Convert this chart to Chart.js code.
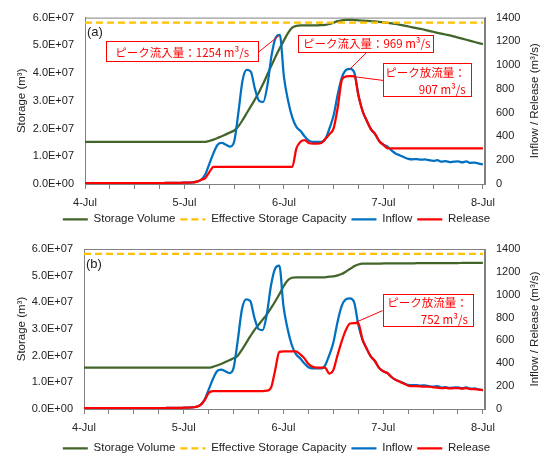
<!DOCTYPE html>
<html>
<head>
<meta charset="utf-8">
<script src="https://cdn.jsdelivr.net/npm/chart.js@4"></script>
<style>
  html, body { margin: 0; padding: 0; background: #fff; overflow: hidden; }
  #wrap { position: relative; width: 553px; height: 454px; overflow: hidden; }
  .panel { position: absolute; left: 0; width: 553px; height: 235px; }
  #pa { top: 0; }
  #pb { top: 229px; }
</style>
</head>
<body>
<div id="wrap">
  <div class="panel" id="pa"><canvas id="chartA" width="553" height="235"></canvas></div>
  <div class="panel" id="pb"><canvas id="chartB" width="553" height="235"></canvas></div>
</div>
<script>
// hourly values, 4-Jul 0:00 (hour 0) .. 8-Jul 0:00 (hour 96)
const dayLabels = ['4-Jul', '5-Jul', '6-Jul', '7-Jul', '8-Jul'];
const hours = Array.from({length: 97}, (_, i) => i);
const tickHours = hours.filter(h => h % 6 === 0);

// inflow, m3/s (same for both cases)
const inflow = [
  8, 8, 8, 8, 8, 8, 8, 8, 8, 8,
  8, 8, 8, 8, 8, 8, 8, 8, 8, 8,
  9, 9, 10, 10, 11, 12, 14, 20, 35, 80,
  170, 260, 330, 345, 330, 315, 360, 600, 870, 960,
  945, 800, 700, 690, 830, 1080, 1230, 1254, 900, 700,
  560, 480, 445, 400, 365, 355, 355, 355, 380, 470,
  580, 760, 900, 960, 969, 935, 740, 610, 530, 460,
  420, 360, 330, 315, 280, 255, 240, 225, 212, 208,
  210, 205, 207, 200, 195, 200, 188, 192, 185, 188,
  190, 182, 190, 178, 180, 172, 165
];

// release, m3/s
const releaseA = [
  8, 8, 8, 8, 8, 8, 8, 8, 8, 8,
  8, 8, 8, 8, 8, 8, 8, 8, 8, 8,
  9, 9, 10, 10, 11, 12, 14, 20, 35, 50,
  100, 145, 145, 145, 145, 145, 145, 145, 145, 145,
  145, 145, 145, 145, 145, 145, 145, 145, 145, 145,
  145, 300, 355, 370, 345, 340, 340, 345, 380, 420,
  470, 650, 880, 905, 907, 905, 740, 610, 530, 460,
  420, 360, 330, 300, 300, 300, 300, 300, 300, 300,
  300, 300, 300, 300, 300, 300, 300, 300, 300, 300,
  300, 300, 300, 300, 300, 300, 300
];
const releaseB = [
  8, 8, 8, 8, 8, 8, 8, 8, 8, 8,
  8, 8, 8, 8, 8, 8, 8, 8, 8, 8,
  9, 9, 10, 10, 11, 12, 14, 18, 35, 75,
  140, 157, 157, 157, 157, 157, 157, 157, 157, 157,
  157, 157, 157, 157, 160, 185, 340, 500, 505, 505,
  505, 505, 480, 445, 395, 370, 362, 362, 362, 310,
  340, 470, 590, 690, 748, 752, 752, 610, 530, 460,
  420, 360, 330, 315, 280, 255, 238, 222, 205, 200,
  200, 198, 195, 195, 190, 188, 182, 185, 180, 182,
  182, 178, 182, 175, 175, 170, 166
];

// storage volume, 10^7 m3
const storageA = [
  1.52, 1.52, 1.52, 1.52, 1.52, 1.52, 1.52, 1.52, 1.52, 1.52,
  1.52, 1.52, 1.52, 1.52, 1.52, 1.52, 1.52, 1.52, 1.52, 1.52,
  1.52, 1.52, 1.52, 1.52, 1.52, 1.52, 1.52, 1.52, 1.52, 1.52,
  1.55, 1.60, 1.66, 1.72, 1.79, 1.86, 1.93, 2.08, 2.30, 2.55,
  2.80, 3.05, 3.32, 3.62, 3.95, 4.28, 4.60, 4.90, 5.18, 5.45,
  5.64, 5.70, 5.72, 5.72, 5.72, 5.72, 5.72, 5.73, 5.74, 5.77,
  5.82, 5.87, 5.90, 5.92, 5.92, 5.91, 5.90, 5.89, 5.88, 5.87,
  5.86, 5.85, 5.83, 5.81, 5.79, 5.77, 5.74, 5.71, 5.68, 5.65,
  5.62, 5.59, 5.56, 5.52, 5.49, 5.45, 5.42, 5.39, 5.36, 5.32,
  5.28, 5.24, 5.20, 5.16, 5.12, 5.08, 5.04
];
const storageB = [
  1.55, 1.55, 1.55, 1.55, 1.55, 1.55, 1.55, 1.55, 1.55, 1.55,
  1.55, 1.55, 1.55, 1.55, 1.55, 1.55, 1.55, 1.55, 1.55, 1.55,
  1.55, 1.55, 1.55, 1.55, 1.55, 1.55, 1.55, 1.55, 1.55, 1.55,
  1.55, 1.58, 1.63, 1.69, 1.76, 1.83, 1.90, 2.00, 2.22, 2.47,
  2.72, 2.96, 3.16, 3.35, 3.55, 3.78, 4.03, 4.30, 4.60, 4.82,
  4.92, 4.94, 4.94, 4.94, 4.94, 4.94, 4.94, 4.94, 4.94, 4.96,
  4.97, 5.01, 5.06, 5.15, 5.25, 5.35, 5.42, 5.45, 5.45, 5.45,
  5.45, 5.45, 5.46, 5.46, 5.46, 5.46, 5.46, 5.46, 5.46, 5.46,
  5.47, 5.47, 5.47, 5.47, 5.47, 5.47, 5.47, 5.47, 5.47, 5.47,
  5.47, 5.48, 5.48, 5.48, 5.48, 5.48, 5.48
];

const capacity = 5.82e7; // effective storage capacity, m3

const storageTicks = [0, 1e7, 2e7, 3e7, 4e7, 5e7, 6e7];
const flowTicks = [0, 200, 400, 600, 800, 1000, 1200, 1400];

const FONT = "'Liberation Sans', Arial, sans-serif";
const JP_FONT = "'Noto Sans CJK JP', 'Noto Sans', sans-serif";
const TEXT = '#222';
const AXIS = '#808080';
const RED = '#FF0000';

Chart.defaults.font.family = FONT;
Chart.defaults.color = TEXT;

function sci(v) {
  const [m, e] = v.toExponential(1).split('e');
  const n = Math.abs(parseInt(e, 10));
  return m + 'E' + (e[0] === '-' ? '-' : '+') + String(n).padStart(2, '0');
}

function peakHour(series, from, to) {
  let best = from;
  for (let i = from; i <= to; i++) if (series[i] > series[best]) best = i;
  return best;
}

// frame, axis titles, panel letter and the red call-outs
const decor = {
  id: 'decor',
  beforeDatasetsDraw(chart) {
    const {ctx, chartArea: a} = chart;
    ctx.save();
    ctx.strokeStyle = AXIS;
    ctx.lineWidth = 1;
    ctx.strokeRect(a.left + 0.5, a.top + 0.5, a.right - a.left - 1, a.bottom - a.top);
    ctx.restore();
  },
  afterDatasetsDraw(chart, args, opts) {
    const {ctx, chartArea: a} = chart;
    const xs = chart.scales.x, ys = chart.scales.yR;
    ctx.save();
    ctx.fillStyle = TEXT;
    ctx.font = '13px ' + FONT;
    ctx.textAlign = 'left';
    ctx.textBaseline = 'middle';
    ctx.fillText(opts.tag, a.left + 2, a.top + 15);

    opts.callouts.forEach(c => {
      const L = xs.getPixelForValue(c.box[0]), R = xs.getPixelForValue(c.box[2]);
      const T = ys.getPixelForValue(c.box[1]), B = ys.getPixelForValue(c.box[3]);
      const px = xs.getPixelForValue(c.at), py = ys.getPixelForValue(c.series[c.at]);
      let sx = (L + R) / 2, sy = B;
      if (c.from === 'right') { sx = R; sy = (T + B) / 2; }
      if (c.from === 'left') { sx = L; sy = (T + B) / 2; }
      ctx.strokeStyle = RED;
      ctx.lineWidth = 1;
      ctx.beginPath();
      ctx.moveTo(sx, sy);
      ctx.lineTo(px, py);
      ctx.stroke();
      ctx.fillStyle = '#fff';
      ctx.fillRect(L, T, R - L, B - T);
      ctx.strokeRect(Math.round(L) + 0.5, Math.round(T) + 0.5, Math.round(R - L) - 1, Math.round(B - T) - 1);
      ctx.fillStyle = RED;
      ctx.font = '11.5px ' + JP_FONT;
      ctx.textBaseline = 'middle';
      const lh = (B - T) / c.lines.length;
      c.lines.forEach((s, i) => {
        if (c.lines.length === 1) {
          ctx.textAlign = 'center';
          ctx.fillText(s, (L + R) / 2, T + lh * (i + 0.5) + 0.5);
        } else {
          ctx.textAlign = 'right';
          ctx.fillText(s, R - 6, T + lh * (i + 0.5) + 0.5);
        }
      });
    });
    ctx.restore();
  },
  afterDraw(chart) {
    const {ctx, chartArea: a} = chart;
    const mid = (a.top + a.bottom) / 2;
    ctx.save();
    ctx.fillStyle = TEXT;
    ctx.font = '11.5px ' + FONT;
    ctx.textAlign = 'center';
    ctx.textBaseline = 'middle';
    [[22, 'Storage (m³)'], [535, 'Inflow / Release (m³/s)']].forEach(([x, s]) => {
      ctx.save();
      ctx.translate(x, mid);
      ctx.rotate(-Math.PI / 2);
      ctx.fillText(s, 0, 0);
      ctx.restore();
    });
    ctx.restore();
  }
};

function makeChart(id, p) {
  return new Chart(document.getElementById(id), {
    type: 'line',
    data: {
      labels: hours,
      datasets: [
        {label: 'Storage Volume', data: p.storage.map(v => v * 1e7), yAxisID: 'yL',
         borderColor: '#42652A', borderWidth: 2.25, order: 4},
        {label: 'Effective Storage Capacity', data: hours.map(() => capacity), yAxisID: 'yL',
         borderColor: '#FFC000', borderWidth: 2.25, borderDash: [7, 4], order: 3},
        {label: 'Inflow', data: inflow, yAxisID: 'yR',
         borderColor: '#0070C0', borderWidth: 2.25, order: 2},
        {label: 'Release', data: p.release, yAxisID: 'yR',
         borderColor: RED, borderWidth: 2.25, order: 1}
      ]
    },
    options: {
      responsive: false,
      animation: false,
      devicePixelRatio: 1,
      layout: {padding: {top: p.top, left: 0, right: 0, bottom: 0}},
      elements: {
        point: {radius: 0},
        line: {cubicInterpolationMode: 'monotone', fill: false}
      },
      scales: {
        x: {
          type: 'linear', min: 0, max: 96.5,
          afterBuildTicks: s => { s.ticks = tickHours.map(v => ({value: v})); },
          afterFit: s => { s.height = p.xHeight; },
          ticks: {autoSkip: false, maxRotation: 0, padding: 7, font: {size: 11},
                  callback: v => (v % 24 === 0 ? dayLabels[v / 24] : '')},
          grid: {drawOnChartArea: false, drawTicks: true, tickLength: 5, color: AXIS},
          border: {color: AXIS}
        },
        yL: {
          position: 'left', min: 0, max: 6e7,
          afterBuildTicks: s => { s.ticks = storageTicks.map(v => ({value: v})); },
          afterFit: s => { s.width = p.left; },
          ticks: {padding: 11, font: {size: 11}, callback: v => sci(v)},
          grid: {drawOnChartArea: false, drawTicks: false},
          border: {color: AXIS}
        },
        yR: {
          position: 'right', min: 0, max: 1400,
          afterBuildTicks: s => { s.ticks = flowTicks.map(v => ({value: v})); },
          afterFit: s => { s.width = 553 - p.right; },
          ticks: {padding: 11, font: {size: 11}, callback: v => String(v)},
          grid: {drawOnChartArea: false, drawTicks: false},
          border: {color: AXIS}
        }
      },
      plugins: {
        legend: {
          position: 'bottom',
          reverse: true,
          labels: {
            usePointStyle: true,
            pointStyle: 'line',
            pointStyleWidth: 25,
            padding: 5,
            color: TEXT,
            font: {size: 11.5},
            generateLabels: chart => Chart.defaults.plugins.legend.labels.generateLabels(chart).map(item => {
              const ds = chart.data.datasets[item.datasetIndex];
              return Object.assign(item, {
                lineWidth: ds.borderWidth, lineDash: ds.borderDash || [],
                strokeStyle: ds.borderColor, fillStyle: ds.borderColor
              });
            })
          }
        },
        tooltip: {enabled: false},
        decor: {tag: p.tag, callouts: p.callouts}
      }
    },
    plugins: [decor]
  });
}

const inPeak1 = peakHour(inflow, 40, 50);
const inPeak2 = peakHour(inflow, 55, 75);
const outPeakA = peakHour(releaseA, 55, 75);
const outPeakB = peakHour(releaseB, 55, 75);

makeChart('chartA', {
  tag: '(a)', storage: storageA, release: releaseA,
  top: 17, left: 85, right: 485, xHeight: 24.5,
  callouts: [
    {lines: ['ピーク流入量：' + inflow[inPeak1] + ' m³/s'], box: [5, 1199, 41.9, 1023],
     from: 'right', series: inflow, at: inPeak1},
    {lines: ['ピーク流入量：' + inflow[inPeak2] + ' m³/s'], box: [51.5, 1257, 84.4, 1107],
     from: 'bottom', series: inflow, at: inPeak2},
    {lines: ['ピーク放流量：', releaseA[outPeakA] + ' m³/s'], box: [71.9, 1014, 93.3, 729],
     from: 'left', series: releaseA, at: outPeakA}
  ]
});

makeChart('chartB', {
  tag: '(b)', storage: storageB, release: releaseB,
  top: 20, left: 84, right: 485, xHeight: 28.5,
  callouts: [
    {lines: ['ピーク放流量：', releaseB[outPeakB] + ' m³/s'], box: [71.9, 1006, 93.8, 717],
     from: 'left', series: releaseB, at: outPeakB}
  ]
});
</script>
</body>
</html>
